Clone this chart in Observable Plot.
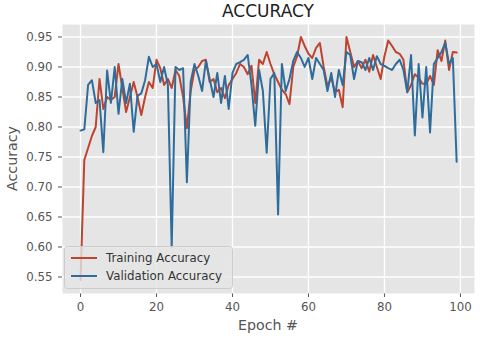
<!DOCTYPE html>
<html>
<head>
<meta charset="utf-8">
<script src="https://cdn.jsdelivr.net/npm/d3@7"></script>
<script src="https://cdn.jsdelivr.net/npm/@observablehq/plot@0.6"></script>
<style>
  html, body { margin: 0; padding: 0; background: #ffffff; }
  #chart { width: 480px; height: 341px; position: relative; }
</style>
</head>
<body>
<div id="chart"></div>
<script>
const chartTitle = "ACCURACY";
const xLabel = "Epoch #";
const yLabel = "Accuracy";
const seriesNames = ["Training Accuracy", "Validation Accuracy"];
const xTicks = [0, 20, 40, 60, 80, 100];
const yTicks = [0.55, 0.60, 0.65, 0.70, 0.75, 0.80, 0.85, 0.90, 0.95];

const epochs = d3.range(0, 100);

const trainingAccuracy = [
  0.545, 0.745, 0.765, 0.785, 0.800, 0.880, 0.830, 0.850, 0.845, 0.850,
  0.905, 0.865, 0.825, 0.850, 0.875, 0.850, 0.820, 0.850, 0.875, 0.865,
  0.912, 0.898, 0.870, 0.880, 0.865, 0.895, 0.885, 0.850, 0.798, 0.860,
  0.895, 0.900, 0.910, 0.912, 0.875, 0.880, 0.858, 0.865, 0.848, 0.870,
  0.880, 0.890, 0.905, 0.900, 0.888, 0.902, 0.840, 0.912, 0.905, 0.925,
  0.905, 0.888, 0.875, 0.862, 0.855, 0.838, 0.900, 0.918, 0.950, 0.935,
  0.922, 0.915, 0.932, 0.940, 0.900, 0.868, 0.882, 0.858, 0.862, 0.833,
  0.950, 0.925, 0.900, 0.910, 0.898, 0.912, 0.892, 0.920, 0.900, 0.880,
  0.918, 0.944, 0.935, 0.925, 0.922, 0.912, 0.858, 0.870, 0.888, 0.882,
  0.872, 0.872, 0.885, 0.870, 0.928, 0.910, 0.944, 0.895, 0.925, 0.924
];

const validationAccuracy = [
  0.794, 0.796, 0.870, 0.878, 0.840, 0.845, 0.758, 0.894, 0.840, 0.900,
  0.822, 0.880, 0.840, 0.872, 0.792, 0.852, 0.856, 0.878, 0.917, 0.900,
  0.905, 0.875, 0.900, 0.870, 0.600, 0.900, 0.895, 0.898, 0.708, 0.875,
  0.905, 0.885, 0.860, 0.910, 0.880, 0.850, 0.890, 0.840, 0.885, 0.830,
  0.890, 0.905, 0.908, 0.912, 0.920, 0.870, 0.802, 0.895, 0.860, 0.757,
  0.880, 0.890, 0.654, 0.905, 0.860, 0.880, 0.910, 0.925, 0.915, 0.900,
  0.915, 0.880, 0.915, 0.905, 0.895, 0.860, 0.890, 0.850, 0.895, 0.870,
  0.925, 0.920, 0.880, 0.910, 0.908, 0.895, 0.915, 0.895, 0.918, 0.905,
  0.902, 0.898, 0.895, 0.905, 0.912, 0.895, 0.858, 0.920, 0.786, 0.905,
  0.816, 0.900, 0.791, 0.905, 0.915, 0.925, 0.940, 0.905, 0.915, 0.742
];

const colors = ["#bd4430", "#2e6d9b"];

const rows = [];
epochs.forEach((e, i) => rows.push({epoch: e, acc: trainingAccuracy[i], series: seriesNames[0]}));
epochs.forEach((e, i) => rows.push({epoch: e, acc: validationAccuracy[i], series: seriesNames[1]}));

const chart = Plot.plot({
  width: 480,
  height: 341,
  marginLeft: 62,
  marginRight: 6,
  marginTop: 24,
  marginBottom: 48,
  style: {fontFamily: "DejaVu Sans, sans-serif", fontSize: "11.8px", color: "#555555", background: "#ffffff", overflow: "visible"},
  x: {domain: [-4.74, 103.7], ticks: xTicks, tickSize: 4, tickPadding: 5, label: null},
  y: {domain: [0.5225, 0.9708], ticks: yTicks, tickFormat: d3.format(".2f"), tickSize: 4, tickPadding: 6, label: null},
  color: {domain: seriesNames, range: colors},
  marks: [
    Plot.frame({fill: "#e5e5e5", stroke: null}),
    Plot.ruleX(xTicks, {stroke: "#ffffff", strokeWidth: 1.3}),
    Plot.ruleY(yTicks, {stroke: "#ffffff", strokeWidth: 1.3}),
    Plot.line(rows.filter(d => d.series === seriesNames[0]), {x: "epoch", y: "acc", stroke: "series", strokeWidth: 2}),
    Plot.line(rows.filter(d => d.series === seriesNames[1]), {x: "epoch", y: "acc", stroke: "series", strokeWidth: 2})
  ]
});

document.getElementById("chart").appendChild(chart);

const svg = d3.select(chart);
svg.append("text")
  .attr("x", 268).attr("y", 17)
  .attr("text-anchor", "middle")
  .attr("font-size", 17).attr("fill", "#222222")
  .text(chartTitle);
svg.append("text")
  .attr("transform", "translate(17,158.5) rotate(-90)")
  .attr("text-anchor", "middle")
  .attr("font-size", 14.2).attr("fill", "#555555")
  .text(yLabel);
svg.append("text")
  .attr("x", 268).attr("y", 330)
  .attr("text-anchor", "middle")
  .attr("font-size", 14.2).attr("fill", "#555555")
  .text(xLabel);

const lg = svg.append("g").attr("text-anchor", "start");
lg.append("rect")
  .attr("x", 64.5).attr("y", 246.5).attr("width", 168).attr("height", 42).attr("rx", 3)
  .attr("fill", "#e5e5e5").attr("fill-opacity", 0.8)
  .attr("stroke", "#cccccc").attr("stroke-width", 1);
seriesNames.forEach((name, i) => {
  const cy = 258 + i * 18;
  lg.append("path")
    .attr("d", `M71,${cy}H97`)
    .attr("fill", "none")
    .attr("stroke", colors[i]).attr("stroke-width", 2);
  lg.append("text")
    .attr("x", 106).attr("y", cy + 4.3)
    .attr("text-anchor", "start")
    .attr("font-size", 11.8).attr("fill", "#333333")
    .text(name);
});
</script>
</body>
</html>
